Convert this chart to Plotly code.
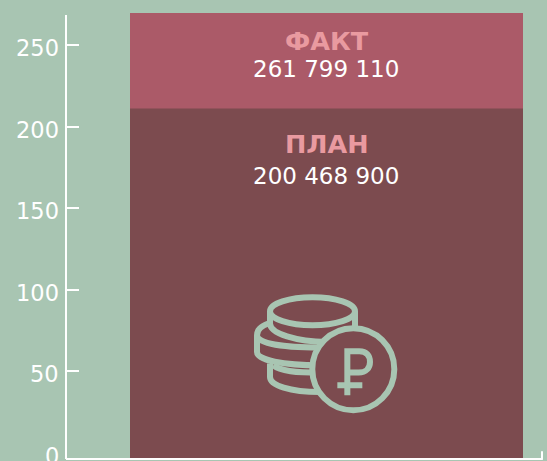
import plotly.graph_objects as go

# --- data -------------------------------------------------------------
series_names = ["ФАКТ", "ПЛАН"]
series_values = [261.79911, 200.4689]
value_labels = ["261 799 110", "200 468 900"]
bar_colors = ["#ab5a68", "#7c4b4f"]
tick_values = [50, 100, 150, 200, 250]
tick_labels = ["50", "100", "150", "200", "250"]
zero_value = 0
zero_label = "0"

BG = "#a8c5b2"
PINK = "#e99aa0"
W, H = 547, 461
L, R, T, B = 67, 542, 13, 458.7
FONT = "DejaVu Sans"

# --- pixel helpers for decoration ---------------------------------------
def fx(px):
    return (px - L) / (R - L)

def fy(py):
    return (B - py) / (B - T)

def zp(x, y):
    return f"{fx(240 + x / 3):.5f},{fy(285 + y / 3):.5f}"

def path(*segs):
    out = []
    for s in segs:
        cmd, pts = s[0], s[1:]
        out.append(cmd + " ".join(zp(*p) for p in pts))
    return " ".join(out)

# --- scales -------------------------------------------------------------
px_per_tick_unit = 81.55 / 50
zero_px = 452.8
tick_top_px = 14.7
tick_range = [-(B - zero_px) / px_per_tick_unit, (zero_px - tick_top_px) / px_per_tick_unit]

bar_scale = (108.5 - T) / (series_values[0] - series_values[1])
bar_low = series_values[1] - (B - 108.5) / bar_scale
bar_range = [bar_low, series_values[0]]

x_scale = 393
x_range = [-0.5 - (130 - L) / x_scale, 0.5 + (R - 523) / x_scale]

fig = go.Figure()
for name, val, col in zip(series_names, series_values, bar_colors):
    fig.add_trace(go.Bar(
        x=[0], y=[val - bar_low], base=[bar_low], width=[1], name=name,
        marker=dict(color=col, line=dict(width=0)),
        xaxis="x", yaxis="y", hoverinfo="skip",
    ))
fig.add_trace(go.Scatter(x=[None], y=[None], xaxis="x", yaxis="y2", showlegend=False))

# --- text ---------------------------------------------------------------
ann = []
label_px = [(41, 68.5), (144, 175.5)]
for name, lab, (y1, y2) in zip(series_names, value_labels, label_px):
    ann.append(dict(x=0, xref="x", y=fy(y1), yref="paper", text=f"<b>{name}</b>", showarrow=False,
                    xanchor="center", yanchor="middle", font=dict(family=FONT, size=25.5, color=PINK)))
    ann.append(dict(x=0, xref="x", xshift=-1, y=fy(y2), yref="paper", text=lab, showarrow=False,
                    xanchor="center", yanchor="middle", font=dict(family=FONT, size=23, color="white")))
for val, lab in zip([zero_value] + tick_values, [zero_label] + tick_labels):
    ann.append(dict(x=0, xref="paper", xshift=-6, y=val, yref="y2", yshift=-3, text=lab, showarrow=False,
                    xanchor="right", yanchor="middle", font=dict(family=FONT, size=22.5, color="white")))

# --- baseline with its end tick -----------------------------------------
white = dict(color="white", width=2)
shapes = [
    dict(type="line", xref="paper", yref="paper", x0=fx(66), x1=fx(542.5), y0=fy(458.7), y1=fy(458.7), line=white, layer="above"),
    dict(type="line", xref="paper", yref="paper", x0=fx(542), x1=fx(542), y0=fy(451), y1=fy(459.5), line=white, layer="above"),
]

# --- coin icon ----------------------------------------------------------
line = dict(color=BG, width=6)
coin_paths = [
    path(("M", (90, 78)), ("L", (90, 115)), ("C", (90, 145), (170, 170), (260, 170))),
    path(("M", (345, 78)), ("L", (345, 140))),
    path(("M", (85, 115)), ("C", (65, 122), (51, 135), (51, 150)), ("L", (51, 200))),
    path(("M", (51, 150)), ("C", (51, 175), (130, 187), (240, 187))),
    path(("M", (51, 200)), ("C", (51, 225), (130, 240), (240, 240))),
    path(("M", (90, 235)), ("L", (90, 275)), ("C", (90, 300), (150, 320), (240, 320))),
    path(("M", (100, 240)), ("C", (120, 258), (170, 262), (240, 262))),
]
shapes += [dict(type="path", path=p, xref="paper", yref="paper", line=line, layer="above") for p in coin_paths]
shapes.append(dict(type="circle", xref="paper", yref="paper",
                   x0=fx(240 + 90 / 3), x1=fx(240 + 345 / 3), y0=fy(285 + 120 / 3), y1=fy(285 + 36 / 3),
                   line=line, fillcolor=bar_colors[1], layer="above"))
shapes.append(dict(type="circle", xref="paper", yref="paper",
                   x0=fx(353.3 - 41), x1=fx(353.3 + 41), y0=fy(369 + 41), y1=fy(369 - 41),
                   line=line, fillcolor=bar_colors[1], layer="above"))
for p in [
    path(("M", (322, 330)), ("L", (322, 198)), ("L", (358, 198)), ("C", (380, 198), (390, 212), (390, 230)),
         ("C", (390, 248), (378, 262), (356, 262)), ("L", (322, 262))),
    path(("M", (292, 300)), ("L", (367, 300))),
]:
    shapes.append(dict(type="path", path=p, xref="paper", yref="paper", line=line, layer="above"))

fig.update_layout(
    width=W, height=H, autosize=False,
    margin=dict(l=L, r=W - R, t=T, b=H - B, pad=0),
    paper_bgcolor=BG, plot_bgcolor="rgba(0,0,0,0)",
    barmode="overlay", showlegend=False,
    annotations=ann, shapes=shapes,
    xaxis=dict(range=x_range, domain=[0, 1], anchor="y", showgrid=False, zeroline=False,
               showline=False, ticks="", showticklabels=False),
    yaxis=dict(range=bar_range, domain=[0, 1], anchor="x", showgrid=False, zeroline=False,
               showline=False, ticks="", showticklabels=False),
    yaxis2=dict(range=tick_range, domain=[0, (B - tick_top_px) / (B - T)], anchor="x", side="left",
                showgrid=False, zeroline=False, showline=True, linecolor="white", linewidth=2,
                tickmode="array", tickvals=tick_values, ticktext=tick_labels,
                ticks="inside", ticklen=12, tickwidth=2, tickcolor="white",
                showticklabels=False),
)

fig.write_html("out.html", config={"displayModeBar": False},
               post_script="document.body.style.margin='0';document.body.style.overflow='hidden';document.body.style.background='" + BG + "';")
